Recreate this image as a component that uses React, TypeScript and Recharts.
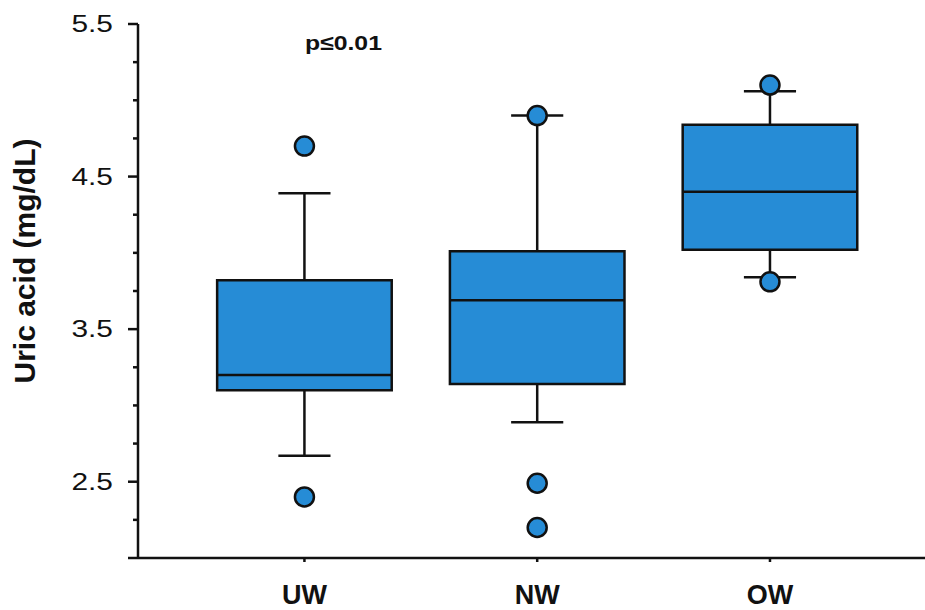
import React from "react";
import {
  ScatterChart,
  Scatter,
  XAxis,
  YAxis,
  ReferenceArea,
  ReferenceLine,
} from "recharts";

const groups = ["UW", "NW", "OW"];
const groupPos = [1, 2, 3];
const q1 = [3.1, 3.14, 4.02];
const median = [3.2, 3.69, 4.4];
const q3 = [3.82, 4.01, 4.84];
const whiskerLow = [2.67, 2.89, 3.84];
const whiskerHigh = [4.39, 4.9, 5.06];
const outliers = [[4.7, 2.4], [4.9, 2.49, 2.2], [5.1, 3.81]];

const yTicks = [2, 2.25, 2.5, 2.75, 3, 3.25, 3.5, 3.75, 4, 4.25, 4.5, 4.75, 5, 5.25, 5.5];
const yLabels = [2.5, 3.5, 4.5, 5.5];

const BLUE = "#268cd6";
const INK = "#111";
const FONT = "'Liberation Sans', Arial, sans-serif";
const BOX_HALF = 0.375;
const CAP_HALF = 0.112;
const LW = 2.5;

const outlierPoints = groupPos.flatMap((p, i) => outliers[i].map((v) => ({ x: p, y: v })));

const YTick = (props: any) => {
  const { x, y, payload } = props;
  const v = payload.value;
  const major = yLabels.includes(v) || v === 2;
  return (
    <g>
      <line x1={major ? x : x + 5} x2={x + 10} y1={y} y2={y} stroke={INK} strokeWidth={LW} />
      {yLabels.includes(v) && (
        <text
          transform={`translate(${x - 15},${y + 8}) scale(1.3,1)`}
          textAnchor="end"
          fontSize={23}
          fontFamily={FONT}
          fill={INK}
        >
          {v.toFixed(1)}
        </text>
      )}
    </g>
  );
};

const XTick = (props: any) => {
  const { x, y, payload } = props;
  return (
    <text x={x} y={y + 40} textAnchor="middle" fontSize={27} fontWeight="bold" fontFamily={FONT} fill={INK}>
      {groups[payload.value - 1]}
    </text>
  );
};

const Dot = (props: any) => (
  <circle cx={props.cx} cy={props.cy} r={9.5} fill={BLUE} stroke={INK} strokeWidth={LW} />
);

export default function App() {
  return (
    <div style={{ position: "absolute", left: 0, top: 0, width: 925, height: 610, background: "#fff" }}>
      <ScatterChart width={925} height={610} margin={{ top: 24, right: 0, bottom: 0, left: 0 }}>
        <XAxis
          type="number"
          dataKey="x"
          domain={[0.285, 3.666]}
          ticks={groupPos}
          allowDataOverflow
          height={52}
          tickSize={4}
          tickMargin={2}
          stroke={INK}
          strokeWidth={LW}
          tick={<XTick />}
        />
        <YAxis
          type="number"
          dataKey="y"
          domain={[2, 5.5]}
          ticks={yTicks}
          allowDataOverflow
          width={138}
          tickSize={10}
          tickMargin={0}
          tickLine={false}
          stroke={INK}
          strokeWidth={LW}
          tick={<YTick />}
          interval={0}
        />
        {groupPos.map((p, i) => (
          <ReferenceLine
            key={`wl${i}`}
            segment={[{ x: p, y: whiskerLow[i] }, { x: p, y: q1[i] }]}
            stroke={INK}
            strokeWidth={LW}
          />
        ))}
        {groupPos.map((p, i) => (
          <ReferenceLine
            key={`wh${i}`}
            segment={[{ x: p, y: q3[i] }, { x: p, y: whiskerHigh[i] }]}
            stroke={INK}
            strokeWidth={LW}
          />
        ))}
        {groupPos.map((p, i) => (
          <ReferenceLine
            key={`cl${i}`}
            segment={[{ x: p - CAP_HALF, y: whiskerLow[i] }, { x: p + CAP_HALF, y: whiskerLow[i] }]}
            stroke={INK}
            strokeWidth={LW}
          />
        ))}
        {groupPos.map((p, i) => (
          <ReferenceLine
            key={`ch${i}`}
            segment={[{ x: p - CAP_HALF, y: whiskerHigh[i] }, { x: p + CAP_HALF, y: whiskerHigh[i] }]}
            stroke={INK}
            strokeWidth={LW}
          />
        ))}
        {groupPos.map((p, i) => (
          <ReferenceArea
            key={`box${i}`}
            x1={p - BOX_HALF}
            x2={p + BOX_HALF}
            y1={q1[i]}
            y2={q3[i]}
            fill={BLUE}
            fillOpacity={1}
            stroke={INK}
            strokeWidth={LW}
          />
        ))}
        {groupPos.map((p, i) => (
          <ReferenceLine
            key={`med${i}`}
            segment={[{ x: p - BOX_HALF, y: median[i] }, { x: p + BOX_HALF, y: median[i] }]}
            stroke={INK}
            strokeWidth={LW}
          />
        ))}
        <Scatter data={outlierPoints} dataKey="y" shape={<Dot />} isAnimationActive={false} />
      </ScatterChart>
      <svg
        width={925}
        height={610}
        style={{ position: "absolute", left: 0, top: 0, pointerEvents: "none" }}
      >
        <text
          transform="translate(24,261) rotate(-90)"
          textAnchor="middle"
          dominantBaseline="central"
          fontSize={30}
          fontWeight="bold"
          fontFamily={FONT}
          fill={INK}
        >
          Uric acid (mg/dL)
        </text>
        <text
          transform="translate(305,50) scale(1.18,1)"
          fontSize={21}
          fontWeight="bold"
          fontFamily={FONT}
          fill={INK}
        >
          p≤0.01
        </text>
      </svg>
    </div>
  );
}
